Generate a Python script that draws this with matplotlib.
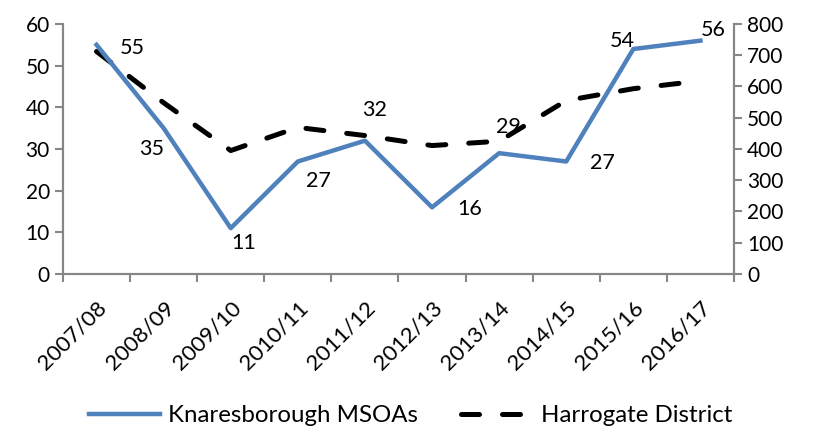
import numpy as np
import matplotlib.pyplot as plt
import matplotlib.transforms as mtransforms

# data
years = ['2007/08', '2008/09', '2009/10', '2010/11', '2011/12',
         '2012/13', '2013/14', '2014/15', '2015/16', '2016/17']
knaresborough = [55, 35, 11, 27, 32, 16, 29, 27, 54, 56]
harrogate = [712, 548, 395, 469, 443, 411, 425, 555, 593, 618]

# label offsets (points) roughly where Excel put them
label_offsets = [(26, -2), (-9, -15), (9, -11), (15, -14), (7, 22),
                 (27, -1), (7, 19), (26, -1), (-8, 6), (9, 8)]

plt.rcParams['font.family'] = ['Lato', 'DejaVu Sans']
grey = '#868686'

fig = plt.figure(figsize=(8.16, 4.30), dpi=100)
ax = fig.add_axes([0.0772, 0.3628, 0.8223, 0.5814])
ax2 = ax.twinx()

x = np.arange(len(years))
ax2.plot(x, harrogate, color='black', lw=3.6, dashes=(3.6, 4.6),
         dash_capstyle='round', label='Harrogate District')
ax.plot(x, knaresborough, color='#4F81BD', lw=3.2, label='Knaresborough MSOAs')
ax.set_zorder(ax2.get_zorder() + 1)
ax.patch.set_visible(False)

for xi, v, off in zip(x, knaresborough, label_offsets):
    ax.annotate(str(v), (xi, v), xytext=off, textcoords='offset points',
                ha='center', va='center', fontsize=15.5)

ax.set_xlim(-0.5, 9.5)
ax.set_ylim(0, 60)
ax2.set_ylim(0, 800)
ax.set_yticks(np.arange(0, 61, 10))
ax2.set_yticks(np.arange(0, 801, 100))
ax.set_xticks(x)
ax.set_xticklabels(years, rotation=45, ha='right', rotation_mode='anchor', fontsize=16)
shift = mtransforms.ScaledTranslation(5 / 100, 0, fig.dpi_scale_trans)
for lbl in ax.get_xticklabels():
    lbl.set_transform(lbl.get_transform() + shift)
ax.set_xticks(np.arange(-0.5, 10, 1), minor=True)
ax.tick_params(axis='x', which='major', length=0, pad=17)
ax.tick_params(axis='x', which='minor', length=6, width=1.5, color=grey, direction='out')
ax.tick_params(axis='y', labelsize=15, length=6, width=1.5, color=grey)
ax2.tick_params(axis='y', labelsize=15, length=6, width=1.5, color=grey)

for a in (ax, ax2):
    a.spines['top'].set_visible(False)
    for s in ('left', 'right', 'bottom'):
        a.spines[s].set_color(grey)
        a.spines[s].set_linewidth(1.5)

h1, l1 = ax.get_legend_handles_labels()
h2, l2 = ax2.get_legend_handles_labels()
fig.legend(h1 + h2, l1 + l2, loc='center', bbox_to_anchor=(0.503, 0.033), ncol=2,
           frameon=False, fontsize=17.3, handlelength=2.95, handletextpad=0.35,
           columnspacing=1.8)

fig.savefig('out.png', dpi=100)
